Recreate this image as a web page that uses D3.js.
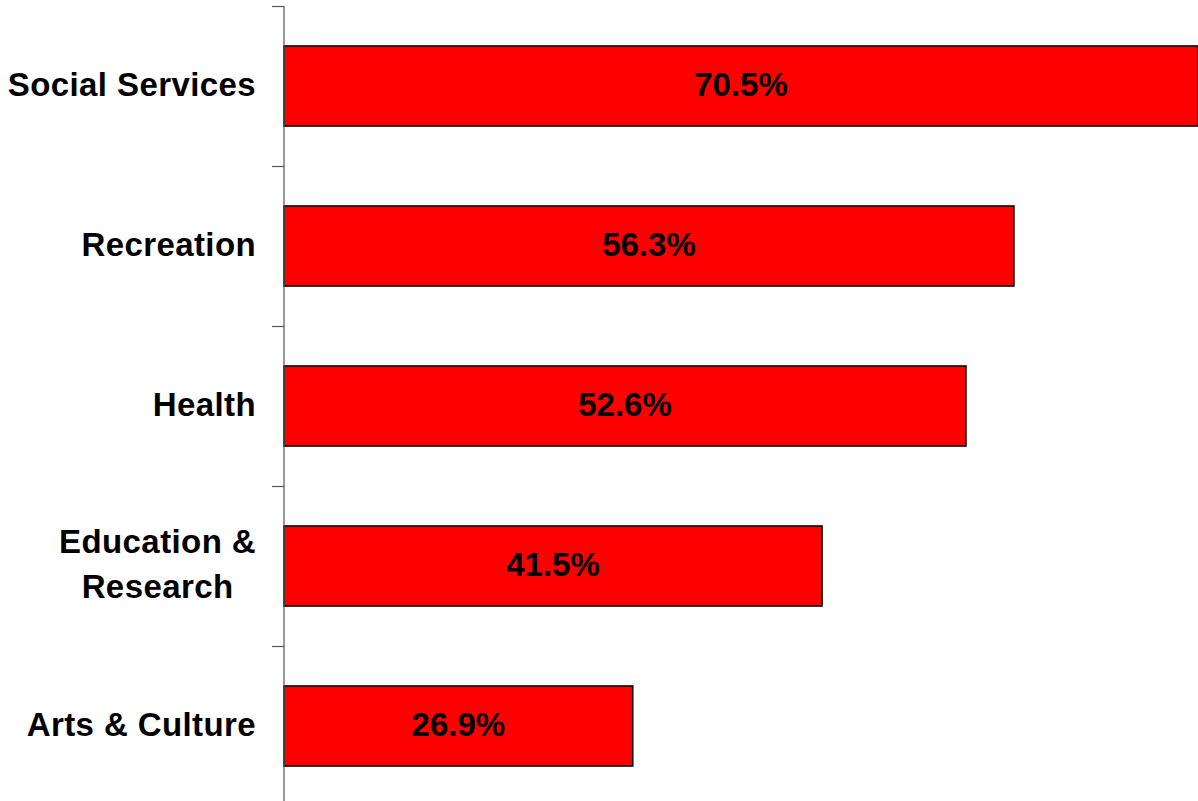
<!DOCTYPE html>
<html>
<head>
<meta charset="utf-8">
<script src="https://cdn.jsdelivr.net/npm/d3@7"></script>
<style>
  html, body { margin: 0; padding: 0; background: #fff; }
  svg { display: block; }
</style>
</head>
<body>
<svg id="chart" width="1198" height="801"></svg>
<script>
// Share of organisations by sector
const categories = [
  ["Social Services"],
  ["Recreation"],
  ["Health"],
  ["Education &", "Research"],
  ["Arts & Culture"]
];
const values = [70.5, 56.3, 52.6, 41.5, 26.9];
const valueLabels = ["70.5%", "56.3%", "52.6%", "41.5%", "26.9%"];

const svg = d3.select("#chart");
const W = 1198, H = 801;
const axisX = 284;

const x = d3.scaleLinear().domain([0, 70.5]).range([axisX, 1198]);
const y = d3.scaleBand()
  .domain(d3.range(categories.length))
  .range([6, 806])
  .paddingInner(0.5)
  .paddingOuter(0.25);

const step = y.step();
const gap = (step - y.bandwidth()) / 2;
const font = "'Liberation Sans', Arial, Helvetica, sans-serif";

// bars
svg.append("g").selectAll("rect")
  .data(values)
  .join("rect")
  .attr("x", x(0))
  .attr("y", (d, i) => y(i))
  .attr("width", d => x(d) - x(0))
  .attr("height", y.bandwidth())
  .attr("fill", "#ff0000")
  .attr("stroke", "#000")
  .attr("stroke-width", 1.6);

// value labels
svg.append("g").selectAll("text")
  .data(values)
  .join("text")
  .attr("x", d => (x(0) + Math.min(x(d), W)) / 2)
  .attr("y", (d, i) => y(i) + y.bandwidth() / 2)
  .attr("dy", "0.3em")
  .attr("text-anchor", "middle")
  .attr("font-family", font)
  .attr("font-weight", "bold")
  .attr("font-size", 33)
  .attr("fill", "#000")
  .text((d, i) => valueLabels[i]);

// category axis: vertical line with ticks at band boundaries
const axis = svg.append("g");
axis.append("line")
  .attr("x1", axisX).attr("x2", axisX)
  .attr("y1", 6).attr("y2", H)
  .attr("stroke", "#555").attr("stroke-width", 1.2);
const boundaries = d3.range(categories.length + 1).map(i => y(0) - gap + i * step);
axis.selectAll(".tick")
  .data(boundaries.filter(b => b <= H))
  .join("line")
  .attr("class", "tick")
  .attr("x1", axisX - 12).attr("x2", axisX)
  .attr("y1", d => Math.round(d) + 0.5).attr("y2", d => Math.round(d) + 0.5)
  .attr("stroke", "#555").attr("stroke-width", 1.2);

// category labels: right-aligned block, lines centred within it
const labelRight = 256;
const lineH = 45;
categories.forEach((lines, i) => {
  const g = svg.append("g");
  const cy = y(i) + y.bandwidth() / 2;
  const texts = lines.map((s, j) => g.append("text")
    .attr("font-family", font)
    .attr("font-weight", "bold")
    .attr("font-size", 33)
    .attr("letter-spacing", 0.4)
    .attr("fill", "#000")
    .attr("text-anchor", "middle")
    .attr("y", cy + (j - (lines.length - 1) / 2) * lineH)
    .attr("dy", "0.3em")
    .text(s));
  const maxW = d3.max(texts, t => t.node().getComputedTextLength());
  texts.forEach(t => t.attr("x", labelRight - maxW / 2));
});
</script>
</body>
</html>
